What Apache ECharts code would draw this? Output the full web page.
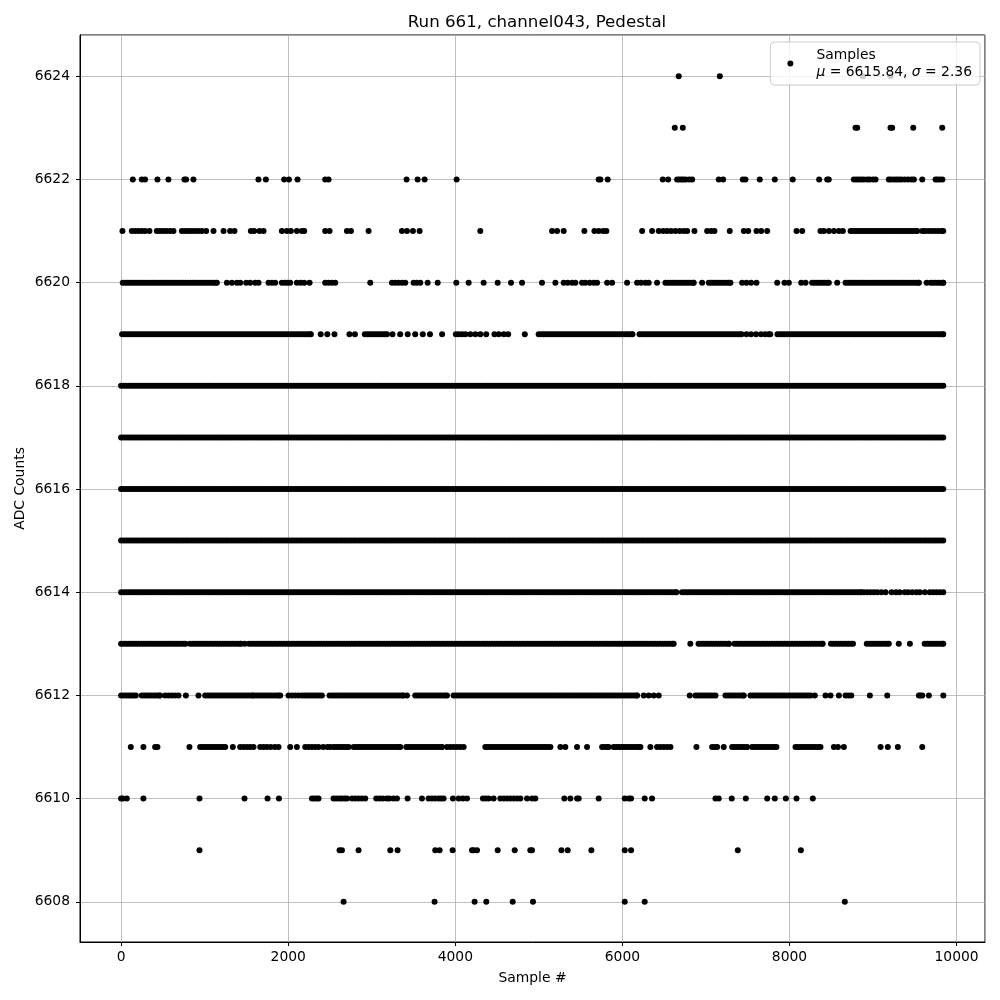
<!DOCTYPE html>
<html>
<head>
<meta charset="utf-8">
<script src="https://cdn.jsdelivr.net/npm/echarts@6/dist/echarts.min.js"></script>
<style>html,body{margin:0;padding:0;background:#fff}#c{width:1000px;height:1000px}</style>
</head>
<body>
<div id="c"></div>
<script>
// Sample indices per ADC level. A plain number = one sample seen at that index,
// a [start, end] pair = a stretch where samples at that level are continuous in the picture.
const lvl6624 = [6674, 7166, 8878, 9209];
const lvl6623 = [6627, 6723, 8790, 8810, 9209, 9229, 9481, 9828];
const lvl6622 = [140, 248, 287, 435, 566, 758, 778, 866, 1644, 1733, 1952, 2009, 2112, 2443, 2483, 3417, 3549, 3633, 4016,
  5716, 5737, 5824, 6483, 6547, 6655, 6680, 6705, 6730, 6760, 6800, 6835, 7153, 7206, 7441, 7473, 7644, 7824, 8039,
  8355, 8451, 8470, 8770, 8800, 8830, 8860, 8890, 8930, 8960, 9000, 9030, 9189, 9215, 9250, 9280, 9310, 9340, 9380,
  9420, 9460, 9489, 9589, 9748, 9770, 9800, 9830];
const lvl6621 = [16, 128, 168, 208, 248, 287, 339, 427, 467, 507, 547, 587, 627, 727, 767, 806, 846, 886, 926, 966, 1018,
  1106, 1226, 1305, 1357, 1553, 1593, 1657, 1705, 1924, 1984, 2032, 2104, 2164, 2192, 2443, 2495, 2703, 2751, 2962,
  3361, 3421, 3493, 3573, 4299, 5158, 5218, 5297, 5545, 5665, 5716, 5769, 5808, 6236, 6356, 6435, 6488, 6535, 6583,
  6635, 6686, 6734, 6775, 6862, 7014, 7062, 7102, 7285, 7453, 7506, 7605, 7661, 7733, 8084, 8152, 8371, 8411, 8471,
  8531, 8591, 8639, [8731, 9529], 9589, 9620, 9660, 9700, 9740, 9780, 9820, 9840];
const lvl6620 = [[20, 1146], 1266, 1326, 1386, 1425, 1497, 1545, 1605, 1645, 1765, 1805, 1844, 1924, 1960, 1990, 2024,
  2104, 2150, 2192, 2256, 2443, 2483, 2523, 2563, 2982, 3242, 3282, 3322, 3362, 3401, 3501, 3541, 3581, 3669, 3789,
  4012, 4160, 4339, 4507, 4667, 4799, 5038, 5198, 5297, 5345, 5398, 5437, 5517, 5557, 5609, 5657, 5697, 5817, 5877,
  6056, 6176, 6224, 6276, 6315, 6415, [6515, 6854], 6954, [7034, 7293], 7433, 7485, 7541, 7605, 7853, 7940, 7992,
  8140, 8192, [8271, 8471], 8571, [8671, 9549], 9641, [9689, 9840]];
const lvl6619 = [[12, 2271], 2389, 2468, 2554, 2733, 2799, [2917, 3182], 3248, 3340, 3430, 3520, 3611, 3697, 3842,
  4007, 4040, 4080, 4120, 4180, 4240, 4300, 4370, 4469, 4520, 4580, 4633, 4832, [4998, 6120], [6205, 7426],
  7485, 7540, 7600, 7660, 7710, 7750, 7770, [7856, 9840]];
const lvl6618 = [[0, 9840]];
const lvl6617 = [[0, 9840]];
const lvl6616 = [[0, 9840]];
const lvl6615 = [[0, 9840]];
const lvl6614 = [[0, 6647], [6714, 8859], 8892, 8930, 8970, 9010, 9050, 9100, 9150, 9222, 9275, 9320, 9380, 9420,
  9470, 9520, 9560, 9620, 9680, 9720, 9760, 9800, 9840];
const lvl6613 = [[0, 771], [825, 1432], 1478, [1530, 6614], 6813, [6911, 7275], [7341, 8397], [8496, 8760],
  [8925, 9189], 9308, 9441, [9618, 9840]];
const lvl6612 = [[0, 148], 176, [248, 467], 527, 567, 607, 647, 687, 775, 926, [1006, 1585], [1617, 1904], 2004, 2044,
  2084, 2124, [2164, 2403], [2495, 3381], 3421, [3521, 3901], [3980, 6176], 6255, 6315, 6375, 6435, 6806,
  [6874, 7114], [7234, 7453], [7533, 8252], 8303, 8431, 8491, 8591, 8671, 8705, 8739, 8962, 9170, 9549, 9569, 9589,
  9668, 9841];
const lvl6611 = [116, 267, 407, 435, 818, [946, 1246], 1337, 1425, 1465, 1505, 1545, 1585, 1665, 1705, 1745, 1790,
  1840, 1884, 2024, 2104, 2204, 2244, 2284, 2324, 2364, 2420, 2470, 2503, [2543, 2723], [2783, 3341], [3413, 3841],
  3901, 3941, 3981, 4021, 4060, 4100, [4359, 5138], 5258, 5317, 5457, 5577, [5757, 5836], [5896, 6216], 6335, 6415,
  6455, 6495, 6535, 6575, 6886, 7074, 7104, 7134, 7213, [7313, 7493], [7553, 7844], [8072, 8371], 8531, 8580, 8651,
  9090, 9177, 9297, 9589];
const lvl6610 = [0, 20, 68, 267, 938, 1477, 1753, 1889, 2284, 2310, 2340, 2363, 2543, 2575, 2610, 2640, 2675, 2703,
  2763, 2800, 2840, 2880, 2922, 3054, 3094, 3134, 3182, 3213, 3260, 3302, 3429, 3601, 3681, 3721, 3760, 3800, 3830,
  3860, 3972, 4040, 4090, 4140, 4331, 4365, 4399, 4459, 4539, 4580, 4620, 4660, 4700, 4740, 4778, 4858, 4918, 4958,
  5305, 5377, 5457, 5477, 5716, 6028, 6076, 6104, 6267, 6355, 7114, 7153, 7309, 7477, 7733, 7824, 7956, 8084, 8279];
const lvl6609 = [938, 2615, 2643, 2842, 3222, 3309, 3760, 3812, 3968, 4200, 4220, 4260, 4507, 4711, 4898, 4918, 5270,
  5345, 5629, 6028, 6104, 7381, 8136];
const lvl6608 = [2663, 3752, 4231, 4371, 4687, 4930, 6028, 6267, 8662];

const levelTable = [
  [6624, lvl6624], [6623, lvl6623], [6622, lvl6622], [6621, lvl6621], [6620, lvl6620], [6619, lvl6619],
  [6618, lvl6618], [6617, lvl6617], [6616, lvl6616], [6615, lvl6615], [6614, lvl6614], [6613, lvl6613],
  [6612, lvl6612], [6611, lvl6611], [6610, lvl6610], [6609, lvl6609], [6608, lvl6608]
];

const titleText = 'Run 661, channel043, Pedestal';
const xName = 'Sample #';
const yName = 'ADC Counts';
const seriesName = 'Samples';
const statMu = '6615.84';
const statSigma = '2.36';

const RUN_STEP = 30;
const points = [];
for (const [lvl, entries] of levelTable) {
  for (const e of entries) {
    if (Array.isArray(e)) {
      for (let s = e[0]; s < e[1]; s += RUN_STEP) points.push([s, lvl]);
      points.push([e[1], lvl]);
    } else {
      points.push([e, lvl]);
    }
  }
}

const FONT = 'DejaVu Sans';
const FS = 13.89;
const chart = echarts.init(document.getElementById('c'), null, {renderer: 'canvas'});
chart.setOption({
  animation: false,
  backgroundColor: '#ffffff',
  textStyle: {fontFamily: FONT},
  title: {
    text: titleText, left: 532, top: 9, textAlign: 'center',
    textStyle: {fontSize: 16.67, fontWeight: 'normal', color: '#000', fontFamily: FONT}
  },
  grid: {left: 80, right: 15, top: 35, bottom: 58, show: true, borderColor: '#000', borderWidth: 1},
  xAxis: {
    type: 'value', min: -492, max: 10340, splitNumber: 5,
    name: xName, nameLocation: 'middle', nameGap: 29,
    nameTextStyle: {fontSize: FS, color: '#000', fontFamily: FONT},
    axisLine: {show: true, onZero: false, lineStyle: {color: '#000', width: 1}},
    axisTick: {show: true, length: 4, lineStyle: {color: '#000'}},
    axisLabel: {color: '#000', fontSize: FS, margin: 8, fontFamily: FONT, showMinLabel: false, showMaxLabel: false,
      formatter: v => String(v)},
    splitLine: {show: true, lineStyle: {color: '#b0b0b0', width: 0.8}}
  },
  yAxis: {
    type: 'value', min: 6607.22, max: 6624.8, splitNumber: 9,
    name: yName, nameLocation: 'middle', nameGap: 53, nameMoveOverlap: false,
    nameTextStyle: {fontSize: FS, color: '#000', fontFamily: FONT},
    axisLine: {show: true, onZero: false, lineStyle: {color: '#000', width: 1}},
    axisTick: {show: true, length: 4, lineStyle: {color: '#000'}},
    axisLabel: {color: '#000', fontSize: FS, margin: 10, fontFamily: FONT, showMinLabel: false, showMaxLabel: false,
      formatter: v => String(v)},
    splitLine: {show: true, lineStyle: {color: '#b0b0b0', width: 0.8}}
  },
  legend: {
    show: true, right: 20, top: 42, orient: 'vertical',
    icon: 'circle', itemWidth: 6, itemHeight: 6,
    backgroundColor: 'rgba(255,255,255,0.8)', borderColor: '#cccccc', borderWidth: 1, borderRadius: 4,
    padding: [6, 8, 6, 17],
    formatter: () => '{p|' + seriesName + '}\n{pi|μ}{t| = ' + statMu + ', }{i|σ}{t| = ' + statSigma + '}',
    textStyle: {
      color: '#000', fontFamily: FONT, fontSize: FS,
      rich: {
        p: {fontSize: FS, color: '#000', fontFamily: FONT, lineHeight: 17, padding: [0, 0, 0, 18]},
        pi: {fontSize: FS, color: '#000', fontFamily: FONT, fontStyle: 'italic', lineHeight: 17, padding: [0, 0, 0, 18]},
        t: {fontSize: FS, color: '#000', fontFamily: FONT, lineHeight: 17},
        i: {fontSize: FS, color: '#000', fontFamily: FONT, fontStyle: 'italic', lineHeight: 17}
      }
    },
    data: [seriesName]
  },
  series: [{
    type: 'scatter', name: seriesName, data: points,
    symbol: 'circle', symbolSize: 6,
    itemStyle: {color: '#000', opacity: 1},
    large: false, progressive: 0, silent: true
  }]
});
</script>
</body>
</html>
